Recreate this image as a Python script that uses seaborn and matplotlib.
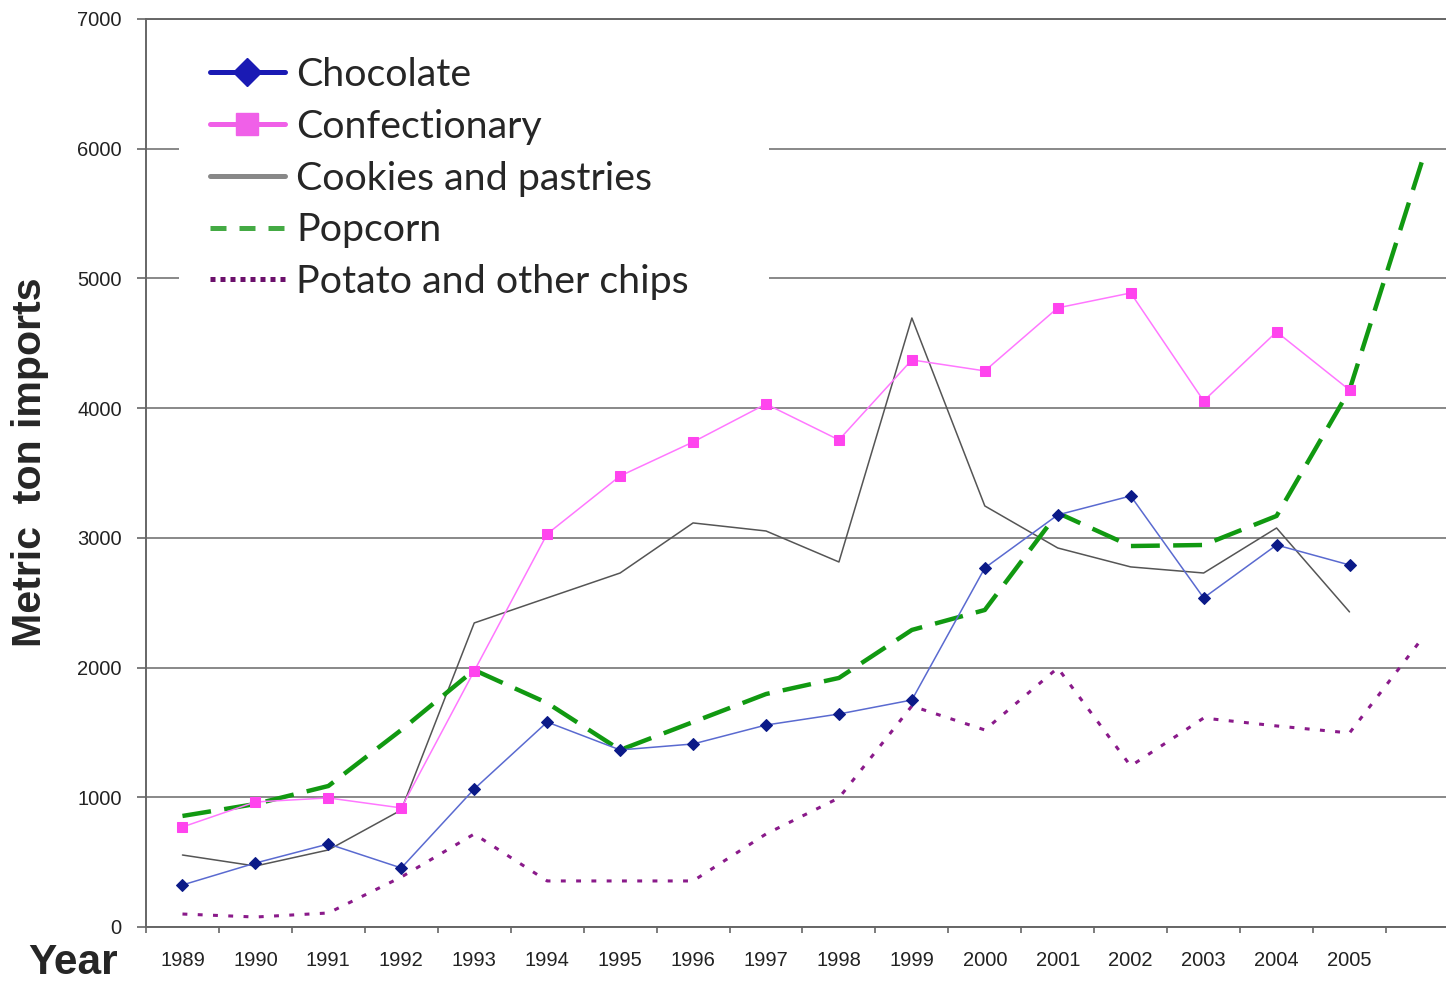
import pandas as pd
import seaborn as sns
import matplotlib.pyplot as plt
from matplotlib.lines import Line2D
from matplotlib.patches import Rectangle

# values (metric tons)
years = list(range(1989, 2007))
chocolate = [324, 493, 640, 455, 1064, 1580, 1365, 1411, 1557, 1642, 1750,
             2768, 3177, 3323, 2537, 2945, 2791]
confectionary = [771, 964, 995, 918, 1974, 3030, 3477, 3739, 4032, 3755, 4372,
                 4287, 4773, 4888, 4056, 4588, 4140]
cookies = [555, 470, 594, 902, 2344, 2537, 2729, 3115, 3053, 2814, 4695,
           3246, 2922, 2776, 2729, 3076, 2429]
popcorn = [856, 948, 1087, 1519, 1981, 1727, 1365, 1580, 1796, 1920, 2290,
           2444, 3192, 2937, 2945, 3169, 4140, 5914]
potato = [100, 77, 108, 385, 717, 355, 355, 355, 717, 995, 1704,
          1519, 1997, 1241, 1611, 1550, 1496, 2228]
year_labels = [str(y) for y in range(1989, 2006)]
legend_labels = ["Chocolate", "Confectionary", "Cookies and pastries",
                 "Popcorn", "Potato and other chips"]

sns.set_style("white")
plt.rcParams['font.family'] = ['Liberation Sans', 'DejaVu Sans']

fig = plt.figure(figsize=(14.46, 9.81), dpi=100)
ax = fig.add_axes([146 / 1446, 1 - 927 / 981, 1300 / 1446, 908 / 981])

# lines
sns.lineplot(x=years[:17], y=cookies, color="#555555", lw=1.1, ax=ax, zorder=3)
sns.lineplot(x=years, y=potato, color="#8a1a8a", lw=2.2,
             linestyle=(0, (1.6, 3.4)), ax=ax, zorder=3)
sns.lineplot(x=years, y=popcorn, color="#119911", lw=3.2,
             linestyle=(0, (6.5, 3)), ax=ax, zorder=4)
sns.lineplot(x=years[:17], y=confectionary, color="#ff77ff", lw=1.1,
             marker="s", markersize=7.5, markerfacecolor="#ff44ee",
             markeredgecolor="#ff44ee", ax=ax, zorder=5)
sns.lineplot(x=years[:17], y=chocolate, color="#5a6ad0", lw=1.1,
             marker="D", markersize=6, markerfacecolor="#0b1a88",
             markeredgecolor="#0b1a88", ax=ax, zorder=6)

# ticks first, then limits (set_xticks would widen the view)
ax.set_yticks(range(0, 7001, 1000))
ax.set_xticks(range(1989, 2006))
ax.set_xticklabels(year_labels)
ax.set_xticks([y + 0.5 for y in range(1988, 2006)], minor=True)
ax.set_xlim(1988.5, 1988.5 + 1300 / 72.94)
ax.set_ylim(0, 7000)
ax.yaxis.grid(True, color="#888888", lw=1.4, zorder=0)
ax.set_axisbelow(True)
ax.tick_params(axis="x", which="major", length=0, pad=17, labelsize=14.5,
               labelcolor="#222222")
ax.tick_params(axis="x", which="minor", direction="out", length=4.5,
               width=1.2, color="#666666", bottom=True)
ax.tick_params(axis="y", direction="out", length=6.5, width=1.2,
               color="#666666", pad=11, labelsize=14.5, labelcolor="#222222",
               left=True)
ax.set_xlabel("")
ax.set_ylabel("")
for side in ["left", "bottom", "top"]:
    ax.spines[side].set_color("#666666")
    ax.spines[side].set_linewidth(1.4)
ax.spines["right"].set_visible(False)

# white box behind the legend
ax.add_patch(Rectangle((33 / 1300, (927 - 300) / 908), 590 / 1300, 275 / 908,
                       transform=ax.transAxes, facecolor="white",
                       edgecolor="none", zorder=2))

handles = [
    Line2D([], [], color="#1a1ab4", lw=3.6, marker="D", markersize=14,
           markerfacecolor="#1a1ab4", markeredgecolor="#1a1ab4"),
    Line2D([], [], color="#f060e8", lw=3.6, marker="s", markersize=16,
           markerfacecolor="#f060e8", markeredgecolor="#f060e8"),
    Line2D([], [], color="#888888", lw=3.6),
    Line2D([], [], color="#44aa44", lw=3.6, linestyle=(0, (3.2, 2.6))),
    Line2D([], [], color="#6b0f6b", lw=3.6, linestyle=(0, (1, 1))),
]
leg = ax.legend(handles, legend_labels, loc="upper left",
                bbox_to_anchor=((210 - 146) / 1300, (927 - 57) / 908),
                frameon=False, prop={"family": ["Lato", "DejaVu Sans"], "size": 28.4},
                handlelength=1.9, handletextpad=0.28, labelspacing=0.4,
                borderpad=0, borderaxespad=0)
leg.set_zorder(10)

fig.text(30 / 1446, 1 - 462 / 981, "Metric  ton imports", rotation=90,
         ha="center", va="center", fontsize=29.6, fontweight="bold")
fig.text(28 / 1446, 1 - 963 / 981, "Year", ha="left", va="center",
         fontsize=30.5, fontweight="bold")

fig.savefig("out.png", dpi=100)
